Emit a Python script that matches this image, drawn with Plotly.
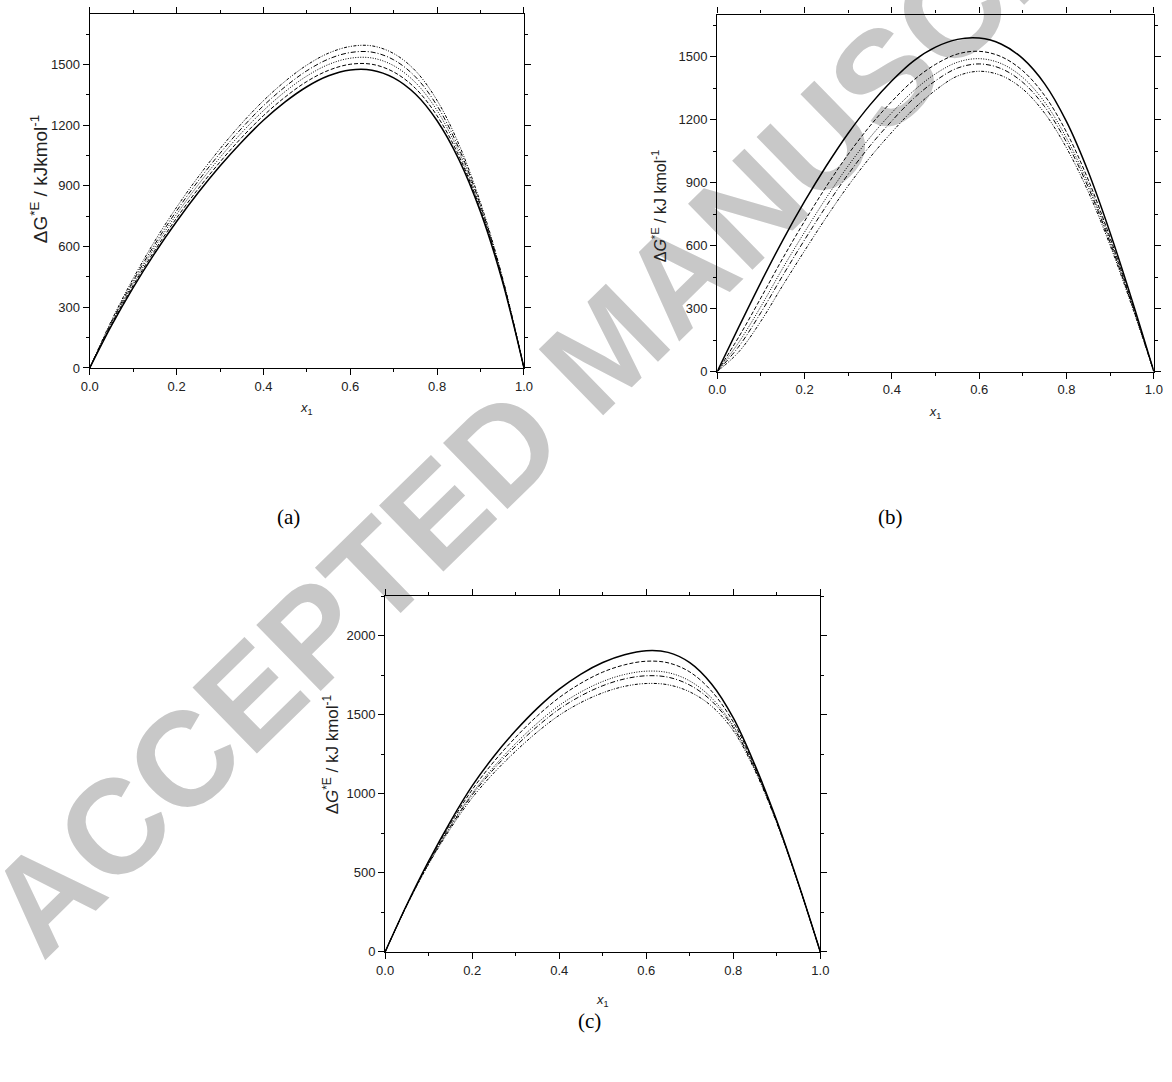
import plotly.graph_objects as go

# ---------------- data ----------------
x1 = [0.0, 0.05, 0.1, 0.15, 0.2, 0.25, 0.3, 0.35, 0.4, 0.45, 0.5,
      0.55, 0.6, 0.65, 0.7, 0.75, 0.8, 0.85, 0.9, 0.95, 1.0]

# panel (a)
a_solid   = [0, 209, 397, 568, 724, 867, 998, 1117, 1224, 1315, 1390, 1444, 1473, 1472, 1434, 1354, 1222, 1031, 771, 431, 0]
a_dash    = [0, 215, 408, 582, 741, 886, 1018, 1139, 1247, 1339, 1416, 1471, 1501, 1501, 1463, 1382, 1246, 1049, 782, 436, 0]
a_dot     = [0, 221, 419, 598, 759, 906, 1040, 1163, 1272, 1366, 1443, 1500, 1531, 1532, 1494, 1411, 1272, 1068, 793, 441, 0]
a_dashdot = [0, 227, 430, 612, 776, 925, 1061, 1185, 1296, 1390, 1469, 1527, 1559, 1561, 1523, 1439, 1296, 1086, 804, 446, 0]
a_ddd     = [0, 234, 442, 628, 794, 945, 1083, 1209, 1321, 1417, 1497, 1556, 1589, 1592, 1554, 1469, 1322, 1106, 816, 451, 0]

# panel (b)
b_solid   = [0, 215, 425, 625, 810, 980, 1135, 1270, 1385, 1480, 1545, 1582, 1588, 1560, 1490, 1370, 1190, 950, 660, 340, 0]
b_dash    = [0, 167, 351, 539, 716, 882, 1035, 1170, 1287, 1388, 1463, 1512, 1525, 1500, 1432, 1314, 1140, 912, 636, 328, 0]
b_dot     = [0, 141, 310, 492, 664, 828, 980, 1115, 1233, 1337, 1418, 1473, 1490, 1467, 1400, 1283, 1112, 891, 623, 321, 0]
b_dashdot = [0, 121, 281, 457, 627, 789, 940, 1075, 1194, 1301, 1385, 1445, 1465, 1443, 1377, 1261, 1092, 876, 613, 317, 0]
b_ddd     = [0, 95, 240, 410, 575, 735, 885, 1020, 1140, 1250, 1340, 1407, 1430, 1410, 1345, 1230, 1065, 855, 600, 310, 0]

# panel (c)
c_solid   = [0, 300, 575, 825, 1050, 1238, 1400, 1542, 1662, 1758, 1831, 1880, 1905, 1895, 1830, 1695, 1480, 1180, 830, 430, 0]
c_dash    = [0, 298, 569, 811, 1026, 1204, 1358, 1494, 1609, 1700, 1770, 1816, 1839, 1829, 1771, 1650, 1454, 1169, 825, 428, 0]
c_dot     = [0, 297, 562, 797, 1003, 1172, 1319, 1448, 1559, 1645, 1711, 1755, 1776, 1767, 1714, 1607, 1430, 1158, 821, 427, 0]
c_dashdot = [0, 296, 560, 791, 993, 1158, 1301, 1427, 1536, 1620, 1684, 1727, 1747, 1738, 1688, 1588, 1419, 1153, 819, 426, 0]
c_ddd     = [0, 295, 555, 780, 975, 1133, 1270, 1392, 1497, 1578, 1639, 1680, 1698, 1690, 1645, 1555, 1400, 1145, 815, 425, 0]

panel_labels = ["(a)", "(b)", "(c)"]
ytitles = ["ΔG<sup>*E</sup> / kJkmol<sup>-1</sup>",
           "Δ<i>G</i><sup>*E</sup> / kJ kmol<sup>-1</sup>",
           "Δ<i>G</i><sup>*E</sup> / kJ kmol<sup>-1</sup>"]
xtitle = "<i>x</i><sub>1</sub>"
watermark = "ACCEPTED MANUSCRIPT"

# ---------------- figure ----------------
W, H = 1172, 1082
FONT = "Liberation Sans, Arial, sans-serif"
dashes = ["solid", "4px,2px", "1px,1.5px", "5px,2px,1px,2px", "3px,1.5px,1px,1.5px,1px,1.5px"]
widths = [1.5, 1.0, 1.0, 1.0, 1.0]

fig = go.Figure()
panels = [
    ("x", "y", [a_solid, a_dash, a_dot, a_dashdot, a_ddd]),
    ("x2", "y2", [b_solid, b_dash, b_dot, b_dashdot, b_ddd]),
    ("x3", "y3", [c_solid, c_dash, c_dot, c_dashdot, c_ddd]),
]
for xa, ya, series in panels:
    for s, d, w in zip(series, dashes, widths):
        fig.add_trace(go.Scatter(x=x1, y=s, xaxis=xa, yaxis=ya, mode="lines",
                                 line=dict(color="black", width=w, dash=d, shape="spline", smoothing=1.0),
                                 showlegend=False, hoverinfo="skip"))

def px_dom_x(a, b):
    return [a / W, b / W]

def px_dom_y(top, bottom):
    return [1 - bottom / H, 1 - top / H]

common_axis = dict(showline=True, linecolor="black", linewidth=1.3, mirror="allticks",
                   ticks="outside", ticklen=6, tickwidth=1, tickcolor="black",
                   showgrid=False, zeroline=False,
                   tickfont=dict(family=FONT, size=13, color="#222"))

def xaxis(dom, anchor, standoff):
    return dict(common_axis, domain=dom, anchor=anchor, range=[0, 1], dtick=0.2, tick0=0,
                tickformat=".1f",
                minor=dict(dtick=0.1, ticklen=3, tickwidth=1, tickcolor="black", ticks="outside"),
                title=dict(text=xtitle, font=dict(family=FONT, size=13, color="#222"), standoff=standoff))

def yaxis(dom, anchor, rng, dt):
    return dict(common_axis, domain=dom, anchor=anchor, range=rng, dtick=dt, tick0=0,
                minor=dict(dtick=dt / 2, ticklen=3, tickwidth=1, tickcolor="black", ticks="outside"))

fig.update_layout(
    width=W, height=H,
    margin=dict(l=0, r=0, t=0, b=0),
    paper_bgcolor="white", plot_bgcolor="rgba(0,0,0,0)",
    xaxis=xaxis(px_dom_x(82, 523), "y", 10),
    yaxis=yaxis(px_dom_y(14, 370.7), "x", [0, 1750], 300),
    xaxis2=xaxis(px_dom_x(719.3, 1162.7), "y2", 10),
    yaxis2=yaxis(px_dom_y(14.7, 374.3), "x2", [0, 1700], 300),
    xaxis3=xaxis(px_dom_x(382, 824), "y3", 18),
    yaxis3=yaxis(px_dom_y(600.7, 959), "x3", [0, 2250], 500),
)

# y-axis titles (rotated)
for t, (cx, cy), fs in zip(ytitles, [(30, 181), (661, 208), (327, 760)], [19, 16, 17]):
    fig.add_annotation(text=t, x=cx / W, y=1 - cy / H, xref="paper", yref="paper",
                       textangle=-90, showarrow=False, xanchor="center", yanchor="middle",
                       font=dict(family=FONT, size=fs, color="#222"))

# sub-figure labels
for lab, (cx, cy) in zip(panel_labels, [(270, 521), (910, 521), (590, 1043)]):
    fig.add_annotation(text=lab, x=cx / W, y=1 - cy / H, xref="paper", yref="paper",
                       showarrow=False, font=dict(family="Liberation Serif, Times New Roman, serif", size=21, color="black"))

# watermark below everything
cxw, cyw = 598, 340
fig.add_shape(type="rect", xref="paper", yref="paper",
              x0=(cxw - 5) / W, x1=(cxw + 5) / W, y0=1 - (cyw + 5) / H, y1=1 - (cyw - 5) / H,
              line=dict(width=0), fillcolor="rgba(0,0,0,0)", layer="below",
              label=dict(text=watermark, textangle=-44.3, textposition="middle center",
                         font=dict(family="Liberation Sans, Arial, sans-serif", size=134, color="#c8c8c8", weight="bold")))

fig.write_html("out.html", config={"displayModeBar": False},
               post_script="document.body.style.margin='0px';")
